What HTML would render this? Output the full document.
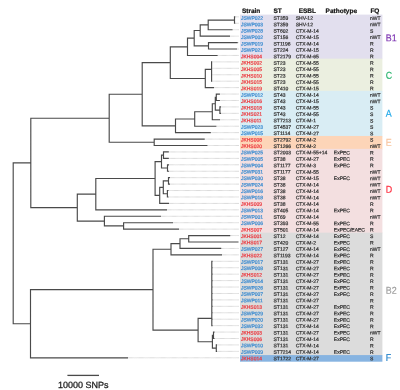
<!DOCTYPE html><html><head><meta charset="utf-8"><style>html,body{margin:0;padding:0;background:#fff;width:400px;height:390px;overflow:hidden}svg{display:block;will-change:transform}text{font-family:"Liberation Sans",sans-serif;text-rendering:geometricPrecision}</style></head><body>
<svg width="400" height="390" viewBox="0 0 400 390">
<rect x="240" y="14.6" width="142.4" height="44.64" fill="#e2dfee"/>
<rect x="240" y="58.64" width="142.4" height="32.82" fill="#ebefe0"/>
<rect x="240" y="90.87" width="142.4" height="45.71" fill="#d9edf4"/>
<rect x="240" y="135.98" width="142.4" height="13.49" fill="#fdd5b8"/>
<rect x="240" y="148.87" width="142.4" height="84.38" fill="#f3dfe0"/>
<rect x="240" y="232.65" width="142.4" height="123.05" fill="#dcdcdc"/>
<rect x="240" y="355.09" width="142.4" height="6.61" fill="#87b4e1"/>
<path d="M235.2 16.85H239M235.2 23.28H239M232.5 29.72H239M230 36.15H239M237.7 42.58H239M237 49.02H239M217.6 55.45H239M211.6 61.88H239M211.6 68.31H239M211.6 74.75H239M211.6 81.18H239M214 87.61H239M219.9 94.05H239M219.9 100.48H239M221 106.91H239M221 113.34H239M220 119.78H239M216.3 126.21H239M210.8 132.64H239M204.7 139.08H239M207.4 145.51H239M168.8 151.94H239M168.8 158.38H239M169 164.81H239M169 171.24H239M170 177.67H239M170 184.11H239M168.5 190.54H239M168.5 196.97H239M169 203.41H239M167 209.84H239M173 222.71H239M179 229.14H239M161 216.27H239M230.2 235.57H239M221.2 248.44H239M222 254.87H239M212.6 261.3H239M212.6 267.74H239M212.6 274.17H239M212.6 280.6H239M212.6 287.04H239M212.6 293.47H239M212.6 299.9H239M212.6 306.34H239M212.6 312.77H239M212.6 319.2H239M212.6 325.63H239M214.5 332.07H239M214.5 338.5H239M217 344.93H239M217 351.37H239M128 357.8H239" stroke="#cccccc" stroke-width="1" fill="none" stroke-dasharray="0.7 0.4"/>
<path d="M234.5 16.85V23.28M234.5 16.85H234.65M234.5 23.28H234.65M208.2 20.07V29.72M208.2 20.07H234.5M208.2 29.72H231.95M200.2 24.89V36.15M200.2 24.89H208.2M200.2 36.15H229.45M208.5 42.58V49.02M208.5 42.58H237.15M208.5 49.02H236.45M194.2 30.52V45.8M194.2 30.52H200.2M194.2 45.8H208.5M187.5 38.16V55.45M187.5 38.16H194.2M187.5 55.45H217.05M211.6 61.88V81.18M205.3 69.3V87.61M205.3 69.3H211.6M205.3 87.61H213.45M170.3 46.8V78.46M170.3 46.8H187.5M170.3 78.46H205.3M216.3 94.05V100.48M216.3 94.05H219.35M216.3 100.48H219.35M219.9 106.91V113.34M219.9 106.91H220.45M219.9 113.34H220.45M215.3 97.26V110.13M215.3 97.26H216.3M215.3 110.13H219.9M212.3 103.7V119.78M212.3 103.7H215.3M212.3 119.78H219.45M194.7 111.74V126.21M194.7 111.74H212.3M194.7 126.21H215.75M175.5 118.97V132.64M175.5 118.97H194.7M175.5 132.64H210.25M142.2 62.63V125.81M142.2 62.63H170.3M142.2 125.81H175.5M154.2 139.08V145.51M154.2 139.08H204.15M154.2 145.51H206.85M109.2 94.22V142.29M109.2 94.22H142.2M109.2 142.29H154.2M163.5 151.94V158.38M163.5 151.94H168.25M163.5 158.38H168.25M167.5 164.81V171.24M167.5 164.81H168.45M167.5 171.24H168.45M161.5 155.16V168.03M161.5 155.16H163.5M161.5 168.03H167.5M168.5 177.67V184.11M168.5 177.67H169.45M168.5 184.11H169.45M167.4 190.54V196.97M167.4 190.54H167.95M167.4 196.97H167.95M163.3 180.89V193.76M163.3 180.89H168.5M163.3 193.76H167.4M159.7 187.32V203.41M159.7 187.32H163.3M159.7 203.41H168.45M155.1 161.59V195.37M155.1 161.59H161.5M155.1 195.37H159.7M95.8 178.48V209.84M95.8 178.48H155.1M95.8 209.84H166.45M123.6 222.71V229.14M123.6 222.71H172.45M123.6 229.14H178.45M104.4 216.27V225.92M104.4 216.27H160.45M104.4 225.92H123.6M77.3 194.16V221.1M77.3 194.16H95.8M77.3 221.1H104.4M30.8 118.26V207.63M30.8 118.26H109.2M30.8 207.63H77.3M188.7 235.57V242M188.7 235.57H229.65M188.7 242H237.95M180 238.79V248.44M180 238.79H188.7M180 248.44H220.65M171 243.61V254.87M171 243.61H180M171 254.87H221.45M211.8 261.3V325.63M211.8 261.3H212.05M211.8 267.74H212.05M211.8 274.17H212.05M211.8 280.6H212.05M211.8 287.04H212.05M211.8 293.47H212.05M211.8 299.9H212.05M211.8 306.34H212.05M211.8 312.77H212.05M211.8 319.2H212.05M211.8 325.63H212.05M213.5 332.07V338.5M213.5 332.07H213.95M213.5 338.5H213.95M216.3 344.93V351.37M216.3 344.93H216.45M216.3 351.37H216.45M212.4 335.28V348.15M212.4 335.28H213.5M212.4 348.15H216.3M198.1 318.4V341.72M198.1 318.4H211.8M198.1 341.72H212.4M153 249.24V330.06M153 249.24H171M153 330.06H198.1M30.5 289.65V357.8M30.5 289.65H153M30.5 357.8H127.45M13.2 162.94V323.72M13.2 162.94H30.8M13.2 323.72H30.5" stroke="#4a4a4a" stroke-width="1.15" fill="none" stroke-linecap="square"/>
<text x="241.9" y="12.9" transform="rotate(0.06 241.9 12.9)" font-size="6.5" font-weight="bold" fill="#111" stroke="#111" stroke-width="0.2">Strain</text>
<text x="273.5" y="12.9" transform="rotate(0.06 273.5 12.9)" font-size="6.5" font-weight="bold" fill="#111" stroke="#111" stroke-width="0.2">ST</text>
<text x="298.7" y="12.9" transform="rotate(0.06 298.7 12.9)" font-size="6.5" font-weight="bold" fill="#111" stroke="#111" stroke-width="0.2">ESBL</text>
<text x="325.6" y="12.9" transform="rotate(0.06 325.6 12.9)" font-size="6.5" font-weight="bold" fill="#111" stroke="#111" stroke-width="0.2">Pathotype</text>
<text x="370.4" y="12.9" transform="rotate(0.06 370.4 12.9)" font-size="6.5" font-weight="bold" fill="#111" stroke="#111" stroke-width="0.2">FQ</text>
<g font-size="5.0" fill="#333" stroke="#333" stroke-width="0.22" transform="rotate(0.06 310 19.85)"><text x="240.9" y="19.85" fill="#3b8bd0" stroke="#3b8bd0">JSWP022</text><text x="273.5" y="19.85">ST359</text><text x="295.7" y="19.85">SHV-12</text><text x="370.1" y="19.85">nWT</text></g>
<g font-size="5.0" fill="#333" stroke="#333" stroke-width="0.22" transform="rotate(0.06 310 26.25)"><text x="240.9" y="26.25" fill="#3b8bd0" stroke="#3b8bd0">JSWP003</text><text x="273.5" y="26.25">ST359</text><text x="295.7" y="26.25">SHV-12</text><text x="370.1" y="26.25">nWT</text></g>
<g font-size="5.0" fill="#333" stroke="#333" stroke-width="0.22" transform="rotate(0.06 310 32.66)"><text x="240.9" y="32.66" fill="#3b8bd0" stroke="#3b8bd0">JSWP028</text><text x="273.5" y="32.66">ST602</text><text x="295.7" y="32.66">CTX-M-14</text><text x="370.1" y="32.66">S</text></g>
<g font-size="5.0" fill="#333" stroke="#333" stroke-width="0.22" transform="rotate(0.06 310 39.06)"><text x="240.9" y="39.06" fill="#3b8bd0" stroke="#3b8bd0">JSWP002</text><text x="273.5" y="39.06">ST156</text><text x="295.7" y="39.06">CTX-M-15</text><text x="370.1" y="39.06">nWT</text></g>
<g font-size="5.0" fill="#333" stroke="#333" stroke-width="0.22" transform="rotate(0.06 310 45.47)"><text x="240.9" y="45.47" fill="#3b8bd0" stroke="#3b8bd0">JSWP019</text><text x="273.5" y="45.47">ST1196</text><text x="295.7" y="45.47">CTX-M-14</text><text x="370.1" y="45.47">R</text></g>
<g font-size="5.0" fill="#333" stroke="#333" stroke-width="0.22" transform="rotate(0.06 310 51.87)"><text x="240.9" y="51.87" fill="#3b8bd0" stroke="#3b8bd0">JSWP021</text><text x="273.5" y="51.87">ST224</text><text x="295.7" y="51.87">CTX-M-15</text><text x="370.1" y="51.87">R</text></g>
<g font-size="5.0" fill="#333" stroke="#333" stroke-width="0.22" transform="rotate(0.06 310 58.28)"><text x="240.9" y="58.28" fill="#ec3a40" stroke="#ec3a40">JKHS004</text><text x="273.5" y="58.28">ST2179</text><text x="295.7" y="58.28">CTX-M-65</text><text x="370.1" y="58.28">R</text></g>
<g font-size="5.0" fill="#333" stroke="#333" stroke-width="0.22" transform="rotate(0.06 310 64.68)"><text x="240.9" y="64.68" fill="#ec3a40" stroke="#ec3a40">JKHS002</text><text x="273.5" y="64.68">ST23</text><text x="295.7" y="64.68">CTX-M-55</text><text x="370.1" y="64.68">R</text></g>
<g font-size="5.0" fill="#333" stroke="#333" stroke-width="0.22" transform="rotate(0.06 310 71.09)"><text x="240.9" y="71.09" fill="#ec3a40" stroke="#ec3a40">JKHS005</text><text x="273.5" y="71.09">ST23</text><text x="295.7" y="71.09">CTX-M-55</text><text x="370.1" y="71.09">R</text></g>
<g font-size="5.0" fill="#333" stroke="#333" stroke-width="0.22" transform="rotate(0.06 310 77.49)"><text x="240.9" y="77.49" fill="#ec3a40" stroke="#ec3a40">JKHS010</text><text x="273.5" y="77.49">ST23</text><text x="295.7" y="77.49">CTX-M-55</text><text x="370.1" y="77.49">R</text></g>
<g font-size="5.0" fill="#333" stroke="#333" stroke-width="0.22" transform="rotate(0.06 310 83.9)"><text x="240.9" y="83.9" fill="#ec3a40" stroke="#ec3a40">JKHS015</text><text x="273.5" y="83.9">ST23</text><text x="295.7" y="83.9">CTX-M-55</text><text x="370.1" y="83.9">R</text></g>
<g font-size="5.0" fill="#333" stroke="#333" stroke-width="0.22" transform="rotate(0.06 310 90.3)"><text x="240.9" y="90.3" fill="#ec3a40" stroke="#ec3a40">JKHS019</text><text x="273.5" y="90.3">ST410</text><text x="295.7" y="90.3">CTX-M-15</text><text x="370.1" y="90.3">R</text></g>
<g font-size="5.0" fill="#333" stroke="#333" stroke-width="0.22" transform="rotate(0.06 310 96.71)"><text x="240.9" y="96.71" fill="#3b8bd0" stroke="#3b8bd0">JSWP012</text><text x="273.5" y="96.71">ST43</text><text x="295.7" y="96.71">CTX-M-14</text><text x="370.1" y="96.71">nWT</text></g>
<g font-size="5.0" fill="#333" stroke="#333" stroke-width="0.22" transform="rotate(0.06 310 103.11)"><text x="240.9" y="103.11" fill="#ec3a40" stroke="#ec3a40">JKHS016</text><text x="273.5" y="103.11">ST43</text><text x="295.7" y="103.11">CTX-M-15</text><text x="370.1" y="103.11">nWT</text></g>
<g font-size="5.0" fill="#333" stroke="#333" stroke-width="0.22" transform="rotate(0.06 310 109.52)"><text x="240.9" y="109.52" fill="#ec3a40" stroke="#ec3a40">JKHS018</text><text x="273.5" y="109.52">ST43</text><text x="295.7" y="109.52">CTX-M-55</text><text x="370.1" y="109.52">S</text></g>
<g font-size="5.0" fill="#333" stroke="#333" stroke-width="0.22" transform="rotate(0.06 310 115.92)"><text x="240.9" y="115.92" fill="#ec3a40" stroke="#ec3a40">JKHS021</text><text x="273.5" y="115.92">ST43</text><text x="295.7" y="115.92">CTX-M-55</text><text x="370.1" y="115.92">S</text></g>
<g font-size="5.0" fill="#333" stroke="#333" stroke-width="0.22" transform="rotate(0.06 310 122.33)"><text x="240.9" y="122.33" fill="#ec3a40" stroke="#ec3a40">JKHS011</text><text x="273.5" y="122.33">ST7213</text><text x="295.7" y="122.33">CTX-M-1</text><text x="370.1" y="122.33">S</text></g>
<g font-size="5.0" fill="#333" stroke="#333" stroke-width="0.22" transform="rotate(0.06 310 128.73)"><text x="240.9" y="128.73" fill="#3b8bd0" stroke="#3b8bd0">JSWP023</text><text x="273.5" y="128.73">ST4537</text><text x="295.7" y="128.73">CTX-M-27</text><text x="370.1" y="128.73">S</text></g>
<g font-size="5.0" fill="#333" stroke="#333" stroke-width="0.22" transform="rotate(0.06 310 135.14)"><text x="240.9" y="135.14" fill="#3b8bd0" stroke="#3b8bd0">JSWP015</text><text x="273.5" y="135.14">ST1114</text><text x="295.7" y="135.14">CTX-M-27</text><text x="370.1" y="135.14">S</text></g>
<g font-size="5.0" fill="#333" stroke="#333" stroke-width="0.22" transform="rotate(0.06 310 141.54)"><text x="240.9" y="141.54" fill="#ec3a40" stroke="#ec3a40">JKHS008</text><text x="273.5" y="141.54">ST2792</text><text x="295.7" y="141.54">CTX-M-2</text><text x="370.1" y="141.54">S</text></g>
<g font-size="5.0" fill="#333" stroke="#333" stroke-width="0.22" transform="rotate(0.06 310 147.95)"><text x="240.9" y="147.95" fill="#ec3a40" stroke="#ec3a40">JKHS020</text><text x="273.5" y="147.95">ST1266</text><text x="295.7" y="147.95">CTX-M-2</text><text x="370.1" y="147.95">nWT</text></g>
<g font-size="5.0" fill="#333" stroke="#333" stroke-width="0.22" transform="rotate(0.06 310 154.35)"><text x="240.9" y="154.35" fill="#3b8bd0" stroke="#3b8bd0">JSWP025</text><text x="273.5" y="154.35">ST2003</text><text x="295.7" y="154.35">CTX-M-55+14</text><text x="333.8" y="154.35">ExPEC</text><text x="370.1" y="154.35">R</text></g>
<g font-size="5.0" fill="#333" stroke="#333" stroke-width="0.22" transform="rotate(0.06 310 160.78)"><text x="240.9" y="160.78" fill="#3b8bd0" stroke="#3b8bd0">JSWP005</text><text x="273.5" y="160.78">ST38</text><text x="295.7" y="160.78">CTX-M-27</text><text x="333.8" y="160.78">ExPEC</text><text x="370.1" y="160.78">R</text></g>
<g font-size="5.0" fill="#333" stroke="#333" stroke-width="0.22" transform="rotate(0.06 310 167.22)"><text x="240.9" y="167.22" fill="#3b8bd0" stroke="#3b8bd0">JSWP004</text><text x="273.5" y="167.22">ST1177</text><text x="295.7" y="167.22">CTX-M-3</text><text x="333.8" y="167.22">ExPEC</text><text x="370.1" y="167.22">R</text></g>
<g font-size="5.0" fill="#333" stroke="#333" stroke-width="0.22" transform="rotate(0.06 310 173.65)"><text x="240.9" y="173.65" fill="#3b8bd0" stroke="#3b8bd0">JSWP031</text><text x="273.5" y="173.65">ST1177</text><text x="295.7" y="173.65">CTX-M-55</text><text x="370.1" y="173.65">nWT</text></g>
<g font-size="5.0" fill="#333" stroke="#333" stroke-width="0.22" transform="rotate(0.06 310 180.09)"><text x="240.9" y="180.09" fill="#3b8bd0" stroke="#3b8bd0">JSWP030</text><text x="273.5" y="180.09">ST38</text><text x="295.7" y="180.09">CTX-M-15</text><text x="333.8" y="180.09">ExPEC</text><text x="370.1" y="180.09">nWT</text></g>
<g font-size="5.0" fill="#333" stroke="#333" stroke-width="0.22" transform="rotate(0.06 310 186.52)"><text x="240.9" y="186.52" fill="#3b8bd0" stroke="#3b8bd0">JSWP024</text><text x="273.5" y="186.52">ST38</text><text x="295.7" y="186.52">CTX-M-14</text><text x="370.1" y="186.52">nWT</text></g>
<g font-size="5.0" fill="#333" stroke="#333" stroke-width="0.22" transform="rotate(0.06 310 192.96)"><text x="240.9" y="192.96" fill="#3b8bd0" stroke="#3b8bd0">JSWP016</text><text x="273.5" y="192.96">ST38</text><text x="295.7" y="192.96">CTX-M-14</text><text x="370.1" y="192.96">nWT</text></g>
<g font-size="5.0" fill="#333" stroke="#333" stroke-width="0.22" transform="rotate(0.06 310 199.39)"><text x="240.9" y="199.39" fill="#3b8bd0" stroke="#3b8bd0">JSWP018</text><text x="273.5" y="199.39">ST38</text><text x="295.7" y="199.39">CTX-M-14</text><text x="370.1" y="199.39">nWT</text></g>
<g font-size="5.0" fill="#333" stroke="#333" stroke-width="0.22" transform="rotate(0.06 310 205.82)"><text x="240.9" y="205.82" fill="#ec3a40" stroke="#ec3a40">JKHS009</text><text x="273.5" y="205.82">ST38</text><text x="295.7" y="205.82">CTX-M-14</text><text x="370.1" y="205.82">R</text></g>
<g font-size="5.0" fill="#333" stroke="#333" stroke-width="0.22" transform="rotate(0.06 310 212.26)"><text x="240.9" y="212.26" fill="#3b8bd0" stroke="#3b8bd0">JSWP013</text><text x="273.5" y="212.26">ST405</text><text x="295.7" y="212.26">CTX-M-14</text><text x="333.8" y="212.26">ExPEC</text><text x="370.1" y="212.26">R</text></g>
<g font-size="5.0" fill="#333" stroke="#333" stroke-width="0.22" transform="rotate(0.06 310 218.69)"><text x="240.9" y="218.69" fill="#3b8bd0" stroke="#3b8bd0">JSWP001</text><text x="273.5" y="218.69">ST69</text><text x="295.7" y="218.69">CTX-M-14</text><text x="370.1" y="218.69">nWT</text></g>
<g font-size="5.0" fill="#333" stroke="#333" stroke-width="0.22" transform="rotate(0.06 310 225.13)"><text x="240.9" y="225.13" fill="#3b8bd0" stroke="#3b8bd0">JSWP006</text><text x="273.5" y="225.13">ST393</text><text x="295.7" y="225.13">CTX-M-55</text><text x="333.8" y="225.13">ExPEC</text><text x="370.1" y="225.13">R</text></g>
<g font-size="5.0" fill="#333" stroke="#333" stroke-width="0.22" transform="rotate(0.06 310 231.56)"><text x="240.9" y="231.56" fill="#ec3a40" stroke="#ec3a40">JKHS007</text><text x="273.5" y="231.56">ST501</text><text x="295.7" y="231.56">CTX-M-14</text><text x="333.8" y="231.56">ExPEC/EAEC</text><text x="370.1" y="231.56">R</text></g>
<g font-size="5.0" fill="#333" stroke="#333" stroke-width="0.22" transform="rotate(0.06 310 238)"><text x="240.9" y="238" fill="#ec3a40" stroke="#ec3a40">JKHS001</text><text x="273.5" y="238">ST12</text><text x="295.7" y="238">CTX-M-14</text><text x="333.8" y="238">ExPEC</text><text x="370.1" y="238">S</text></g>
<g font-size="5.0" fill="#333" stroke="#333" stroke-width="0.22" transform="rotate(0.06 310 244.43)"><text x="240.9" y="244.43" fill="#ec3a40" stroke="#ec3a40">JKHS017</text><text x="273.5" y="244.43">ST420</text><text x="295.7" y="244.43">CTX-M-2</text><text x="333.8" y="244.43">ExPEC</text><text x="370.1" y="244.43">R</text></g>
<g font-size="5.0" fill="#333" stroke="#333" stroke-width="0.22" transform="rotate(0.06 310 250.87)"><text x="240.9" y="250.87" fill="#3b8bd0" stroke="#3b8bd0">JSWP027</text><text x="273.5" y="250.87">ST127</text><text x="295.7" y="250.87">CTX-M-14</text><text x="333.8" y="250.87">ExPEC</text><text x="370.1" y="250.87">nWT</text></g>
<g font-size="5.0" fill="#333" stroke="#333" stroke-width="0.22" transform="rotate(0.06 310 257.3)"><text x="240.9" y="257.3" fill="#ec3a40" stroke="#ec3a40">JKHS022</text><text x="273.5" y="257.3">ST1193</text><text x="295.7" y="257.3">CTX-M-14</text><text x="333.8" y="257.3">ExPEC</text><text x="370.1" y="257.3">R</text></g>
<g font-size="5.0" fill="#333" stroke="#333" stroke-width="0.22" transform="rotate(0.06 310 263.73)"><text x="240.9" y="263.73" fill="#3b8bd0" stroke="#3b8bd0">JSWP017</text><text x="273.5" y="263.73">ST131</text><text x="295.7" y="263.73">CTX-M-27</text><text x="333.8" y="263.73">ExPEC</text><text x="370.1" y="263.73">R</text></g>
<g font-size="5.0" fill="#333" stroke="#333" stroke-width="0.22" transform="rotate(0.06 310 270.17)"><text x="240.9" y="270.17" fill="#3b8bd0" stroke="#3b8bd0">JSWP008</text><text x="273.5" y="270.17">ST131</text><text x="295.7" y="270.17">CTX-M-27</text><text x="333.8" y="270.17">ExPEC</text><text x="370.1" y="270.17">R</text></g>
<g font-size="5.0" fill="#333" stroke="#333" stroke-width="0.22" transform="rotate(0.06 310 276.6)"><text x="240.9" y="276.6" fill="#ec3a40" stroke="#ec3a40">JKHS012</text><text x="273.5" y="276.6">ST131</text><text x="295.7" y="276.6">CTX-M-27</text><text x="333.8" y="276.6">ExPEC</text><text x="370.1" y="276.6">R</text></g>
<g font-size="5.0" fill="#333" stroke="#333" stroke-width="0.22" transform="rotate(0.06 310 283.04)"><text x="240.9" y="283.04" fill="#3b8bd0" stroke="#3b8bd0">JSWP014</text><text x="273.5" y="283.04">ST131</text><text x="295.7" y="283.04">CTX-M-27</text><text x="333.8" y="283.04">ExPEC</text><text x="370.1" y="283.04">R</text></g>
<g font-size="5.0" fill="#333" stroke="#333" stroke-width="0.22" transform="rotate(0.06 310 289.47)"><text x="240.9" y="289.47" fill="#3b8bd0" stroke="#3b8bd0">JSWP026</text><text x="273.5" y="289.47">ST131</text><text x="295.7" y="289.47">CTX-M-27</text><text x="333.8" y="289.47">ExPEC</text><text x="370.1" y="289.47">R</text></g>
<g font-size="5.0" fill="#333" stroke="#333" stroke-width="0.22" transform="rotate(0.06 310 295.91)"><text x="240.9" y="295.91" fill="#3b8bd0" stroke="#3b8bd0">JSWP007</text><text x="273.5" y="295.91">ST131</text><text x="295.7" y="295.91">CTX-M-27</text><text x="333.8" y="295.91">ExPEC</text><text x="370.1" y="295.91">R</text></g>
<g font-size="5.0" fill="#333" stroke="#333" stroke-width="0.22" transform="rotate(0.06 310 302.34)"><text x="240.9" y="302.34" fill="#3b8bd0" stroke="#3b8bd0">JSWP011</text><text x="273.5" y="302.34">ST131</text><text x="295.7" y="302.34">CTX-M-27</text><text x="370.1" y="302.34">R</text></g>
<g font-size="5.0" fill="#333" stroke="#333" stroke-width="0.22" transform="rotate(0.06 310 308.77)"><text x="240.9" y="308.77" fill="#ec3a40" stroke="#ec3a40">JKHS013</text><text x="273.5" y="308.77">ST131</text><text x="295.7" y="308.77">CTX-M-27</text><text x="333.8" y="308.77">ExPEC</text><text x="370.1" y="308.77">R</text></g>
<g font-size="5.0" fill="#333" stroke="#333" stroke-width="0.22" transform="rotate(0.06 310 315.21)"><text x="240.9" y="315.21" fill="#3b8bd0" stroke="#3b8bd0">JSWP029</text><text x="273.5" y="315.21">ST131</text><text x="295.7" y="315.21">CTX-M-27</text><text x="333.8" y="315.21">ExPEC</text><text x="370.1" y="315.21">R</text></g>
<g font-size="5.0" fill="#333" stroke="#333" stroke-width="0.22" transform="rotate(0.06 310 321.64)"><text x="240.9" y="321.64" fill="#3b8bd0" stroke="#3b8bd0">JSWP020</text><text x="273.5" y="321.64">ST131</text><text x="295.7" y="321.64">CTX-M-27</text><text x="333.8" y="321.64">ExPEC</text><text x="370.1" y="321.64">R</text></g>
<g font-size="5.0" fill="#333" stroke="#333" stroke-width="0.22" transform="rotate(0.06 310 328.08)"><text x="240.9" y="328.08" fill="#3b8bd0" stroke="#3b8bd0">JSWP032</text><text x="273.5" y="328.08">ST131</text><text x="295.7" y="328.08">CTX-M-14</text><text x="333.8" y="328.08">ExPEC</text><text x="370.1" y="328.08">R</text></g>
<g font-size="5.0" fill="#333" stroke="#333" stroke-width="0.22" transform="rotate(0.06 310 334.51)"><text x="240.9" y="334.51" fill="#ec3a40" stroke="#ec3a40">JKHS003</text><text x="273.5" y="334.51">ST131</text><text x="295.7" y="334.51">CTX-M-27</text><text x="333.8" y="334.51">ExPEC</text><text x="370.1" y="334.51">nWT</text></g>
<g font-size="5.0" fill="#333" stroke="#333" stroke-width="0.22" transform="rotate(0.06 310 340.95)"><text x="240.9" y="340.95" fill="#ec3a40" stroke="#ec3a40">JKHS006</text><text x="273.5" y="340.95">ST131</text><text x="295.7" y="340.95">CTX-M-14</text><text x="333.8" y="340.95">ExPEC</text><text x="370.1" y="340.95">R</text></g>
<g font-size="5.0" fill="#333" stroke="#333" stroke-width="0.22" transform="rotate(0.06 310 347.38)"><text x="240.9" y="347.38" fill="#3b8bd0" stroke="#3b8bd0">JSWP010</text><text x="273.5" y="347.38">ST131</text><text x="295.7" y="347.38">CTX-M-14</text><text x="370.1" y="347.38">R</text></g>
<g font-size="5.0" fill="#333" stroke="#333" stroke-width="0.22" transform="rotate(0.06 310 353.82)"><text x="240.9" y="353.82" fill="#3b8bd0" stroke="#3b8bd0">JSWP009</text><text x="273.5" y="353.82">ST7214</text><text x="295.7" y="353.82">CTX-M-14</text><text x="333.8" y="353.82">ExPEC</text><text x="370.1" y="353.82">R</text></g>
<g font-size="5.0" fill="#333" stroke="#333" stroke-width="0.22" transform="rotate(0.06 310 360.25)"><text x="240.9" y="360.25" fill="#ec3a40" stroke="#ec3a40">JKHS014</text><text x="273.5" y="360.25">ST1722</text><text x="295.7" y="360.25">CTX-M-27</text><text x="370.1" y="360.25">S</text></g>
<text transform="translate(385.7,41.3) scale(0.9,1) rotate(0.06)" font-size="9.9" fill="#7a2fb0" stroke="#7a2fb0" stroke-width="0.18">B1</text>
<text transform="translate(385.7,78.8) scale(0.9,1) rotate(0.06)" font-size="9.9" fill="#2bb56e" stroke="#2bb56e" stroke-width="0.18">C</text>
<text transform="translate(385.7,116.8) scale(0.9,1) rotate(0.06)" font-size="9.9" fill="#1aa6e8" stroke="#1aa6e8" stroke-width="0.18">A</text>
<text transform="translate(385.7,145.8) scale(0.9,1) rotate(0.06)" font-size="9.9" fill="#f8c39c" stroke="#f8c39c" stroke-width="0.18">E</text>
<text transform="translate(385.7,192.8) scale(0.9,1) rotate(0.06)" font-size="9.9" fill="#ff2a3c" stroke="#ff2a3c" stroke-width="0.18">D</text>
<text transform="translate(385.7,293.8) scale(0.9,1) rotate(0.06)" font-size="9.9" fill="#9e9e9e" stroke="#9e9e9e" stroke-width="0.18">B2</text>
<text transform="translate(385.7,361.1) scale(0.9,1) rotate(0.06)" font-size="9.9" fill="#1d7fc8" stroke="#1d7fc8" stroke-width="0.18">F</text>
<path d="M67.4 375.4H99" stroke="#4a4a4a" stroke-width="1.3"/>
<text x="58" y="388" transform="rotate(0.06 58 388)" font-size="9" fill="#222" stroke="#222" stroke-width="0.28">10000 SNPs</text>
</svg></body></html>
